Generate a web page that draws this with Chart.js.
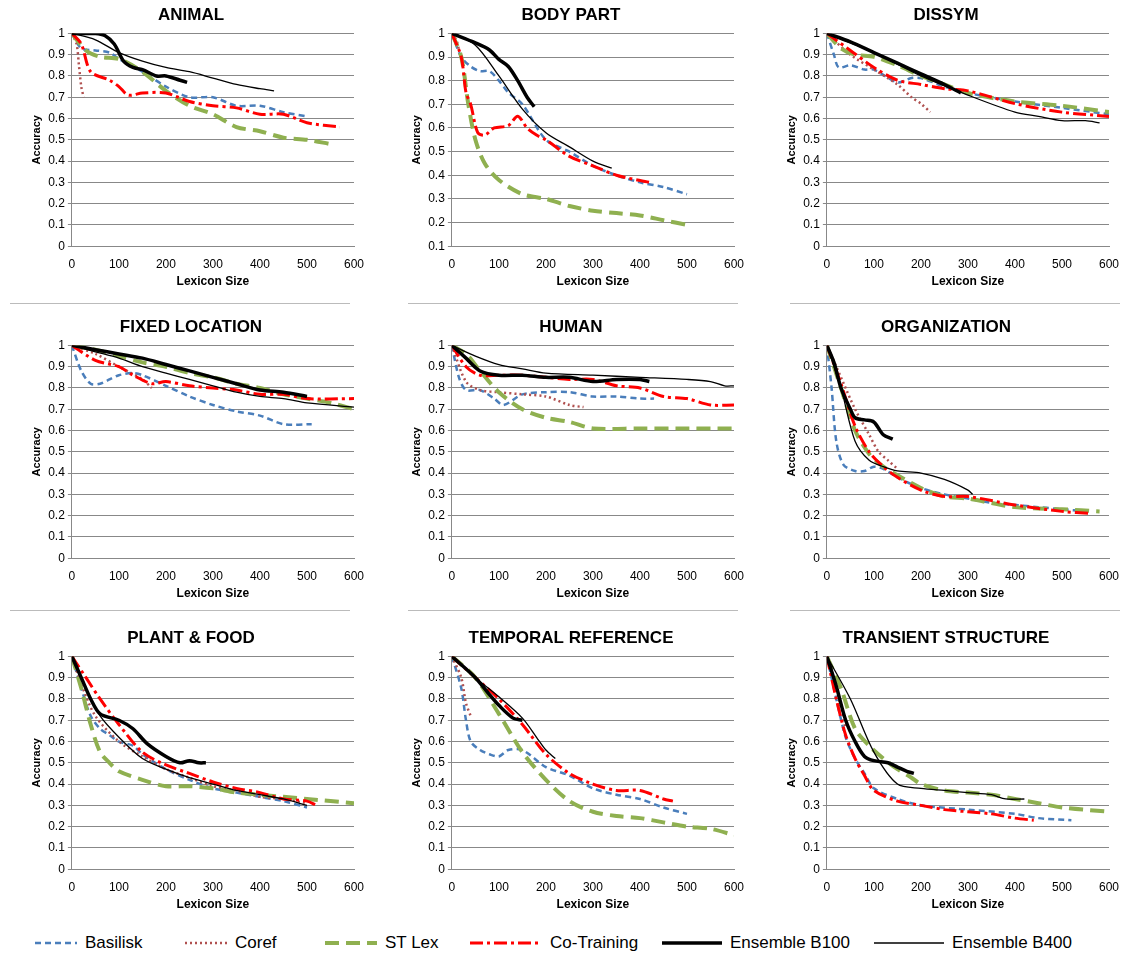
<!DOCTYPE html>
<html><head><meta charset="utf-8">
<script src="https://cdn.jsdelivr.net/npm/chart.js@4.4.0/dist/chart.umd.min.js"></script>
<style>
body{margin:0;background:#fff;width:1130px;height:957px;position:relative;overflow:hidden;font-family:"Liberation Sans",Arial,sans-serif}
.p{position:absolute;width:376px;height:288px}
.sep{position:absolute;height:1px;background:#bbb}
.li{position:absolute;top:930px;height:26px;display:flex;align-items:center;font-size:17px;color:#000;white-space:nowrap}
</style></head><body>
<div class="sep" style="left:10px;top:303px;width:340px"></div>
<div class="sep" style="left:408px;top:303px;width:330px"></div>
<div class="sep" style="left:790px;top:303px;width:330px"></div>
<div class="sep" style="left:10px;top:610px;width:340px"></div>
<div class="sep" style="left:408px;top:610px;width:330px"></div>
<div class="sep" style="left:790px;top:610px;width:330px"></div>
<script>
const SERIES=["Basilisk","Coref","ST Lex","Co-Training","Ensemble B100","Ensemble B400"];
const TITLES=["ANIMAL","BODY PART","DISSYM","FIXED LOCATION","HUMAN","ORGANIZATION","PLANT & FOOD","TEMPORAL REFERENCE","TRANSIENT STRUCTURE"];
const YMIN=[0,0.1,0,0,0,0,0,0,0];
const X_TICKS=[0,100,200,300,400,500,600];

const ANIMAL_BASILISK=[[0,1],[20,0.93],[50,0.92],[80,0.91],[100,0.88],[150,0.82],[200,0.75],[250,0.7],[300,0.7],[350,0.66],[400,0.66],[450,0.63],[500,0.61]];
const ANIMAL_COREF=[[0,1],[10,0.95],[15,0.85],[20,0.75],[25,0.7]];
const ANIMAL_STLEX=[[0,1],[30,0.92],[60,0.89],[100,0.88],[150,0.82],[200,0.73],[250,0.66],[300,0.62],[350,0.56],[400,0.54],[450,0.51],[500,0.5],[550,0.48]];
const ANIMAL_COT=[[0,1],[20,0.95],[40,0.82],[80,0.78],[100,0.75],[120,0.71],[150,0.72],[200,0.72],[250,0.68],[300,0.66],[350,0.65],[400,0.62],[450,0.62],[500,0.58],[570,0.56]];
const ANIMAL_B100=[[0,1],[50,1],[70,0.99],[90,0.95],[110,0.87],[130,0.84],[150,0.83],[180,0.8],[200,0.8],[230,0.78],[245,0.77]];
const ANIMAL_B400=[[0,1],[50,0.97],[100,0.91],[150,0.87],[200,0.84],[250,0.82],[300,0.79],[350,0.76],[400,0.74],[430,0.73]];

const BODY_BASILISK=[[0,1],[20,0.9],[40,0.86],[60,0.84],[80,0.84],[100,0.8],[120,0.75],[150,0.7],[200,0.55],[250,0.5],[300,0.44],[350,0.4],[400,0.37],[450,0.35],[500,0.32]];
const BODY_COREF=[[0,1],[10,0.97],[15,0.93]];
const BODY_STLEX=[[0,1],[20,0.9],[35,0.7],[50,0.55],[70,0.45],[100,0.38],[150,0.32],[200,0.3],[250,0.27],[300,0.25],[350,0.24],[400,0.23],[450,0.21],[500,0.19]];
const BODY_COT=[[0,1],[20,0.9],[30,0.75],[40,0.7],[55,0.58],[70,0.57],[90,0.6],[120,0.61],[140,0.65],[160,0.6],[180,0.57],[200,0.55],[250,0.48],[300,0.44],[350,0.4],[420,0.37]];
const BODY_B100=[[0,1],[50,0.96],[80,0.93],[100,0.89],[120,0.86],[140,0.8],[160,0.73],[175,0.69]];
const BODY_B400=[[0,1],[50,0.95],[100,0.82],[150,0.68],[200,0.58],[250,0.52],[300,0.46],[340,0.43]];

const DISSYM_BASILISK=[[0,1],[15,0.9],[25,0.84],[50,0.85],[80,0.83],[100,0.83],[150,0.77],[180,0.79],[200,0.79],[250,0.75],[300,0.72],[400,0.68],[500,0.65],[600,0.62]];
const DISSYM_COREF=[[0,1],[50,0.9],[100,0.83],[150,0.76],[180,0.7],[200,0.67],[220,0.63]];
const DISSYM_STLEX=[[0,1],[30,0.93],[60,0.9],[100,0.89],[150,0.85],[200,0.8],[250,0.76],[300,0.72],[400,0.68],[500,0.66],[600,0.63]];
const DISSYM_COT=[[0,1],[50,0.92],[100,0.84],[150,0.78],[200,0.76],[250,0.74],[300,0.73],[400,0.67],[500,0.63],[600,0.61]];
const DISSYM_B100=[[0,1],[50,0.96],[100,0.91],[150,0.86],[200,0.81],[250,0.76],[285,0.72]];
const DISSYM_B400=[[0,1],[100,0.91],[200,0.8],[300,0.71],[400,0.63],[450,0.61],[500,0.59],[550,0.59],[580,0.58]];

const FIXED_BASILISK=[[0,1],[20,0.88],[40,0.82],[60,0.82],[80,0.84],[100,0.86],[130,0.87],[150,0.86],[200,0.81],[250,0.76],[300,0.72],[350,0.69],[400,0.67],[450,0.63],[510,0.63]];
const FIXED_COREF=[[0,1],[50,0.96],[100,0.9],[150,0.84],[170,0.8]];
const FIXED_STLEX=[[0,1],[50,0.98],[100,0.95],[150,0.92],[200,0.9],[250,0.87],[300,0.85],[350,0.82],[400,0.8],[450,0.77],[500,0.75],[550,0.73],[600,0.7]];
const FIXED_COT=[[0,1],[50,0.93],[100,0.9],[130,0.86],[170,0.82],[200,0.83],[250,0.81],[300,0.8],[350,0.79],[400,0.77],[450,0.77],[500,0.75],[600,0.75]];
const FIXED_B100=[[0,1],[50,0.98],[100,0.96],[150,0.94],[200,0.91],[250,0.88],[300,0.85],[350,0.82],[400,0.79],[450,0.78],[500,0.76]];
const FIXED_B400=[[0,1],[50,0.97],[100,0.94],[150,0.9],[200,0.87],[250,0.84],[300,0.81],[350,0.78],[400,0.76],[450,0.75],[500,0.73],[600,0.71]];

const HUMAN_BASILISK=[[0,1],[15,0.85],[30,0.79],[60,0.79],[90,0.75],[110,0.72],[150,0.77],[200,0.78],[250,0.78],[300,0.76],[350,0.76],[400,0.75],[430,0.75]];
const HUMAN_COREF=[[0,1],[30,0.83],[60,0.79],[100,0.78],[150,0.77],[200,0.76],[250,0.72],[280,0.71]];
const HUMAN_STLEX=[[0,1],[30,0.96],[60,0.88],[100,0.78],[150,0.7],[200,0.66],[250,0.64],[300,0.61],[400,0.61],[500,0.61],[600,0.61]];
const HUMAN_COT=[[0,1],[30,0.9],[60,0.86],[100,0.86],[150,0.86],[200,0.85],[250,0.84],[300,0.84],[350,0.81],[400,0.8],[450,0.76],[500,0.75],[550,0.72],[600,0.72]];
const HUMAN_B100=[[0,1],[30,0.94],[60,0.88],[100,0.86],[150,0.86],[200,0.85],[250,0.85],[300,0.83],[350,0.84],[400,0.84],[420,0.83]];
const HUMAN_B400=[[0,1],[50,0.95],[100,0.91],[150,0.89],[200,0.87],[300,0.86],[400,0.85],[500,0.84],[550,0.83],[580,0.81],[600,0.81]];

const ORG_BASILISK=[[0,1],[10,0.8],[20,0.55],[35,0.44],[60,0.41],[80,0.41],[100,0.43],[120,0.42],[150,0.38],[200,0.33],[250,0.3],[300,0.28],[350,0.26],[400,0.25],[450,0.24],[500,0.23],[550,0.22]];
const ORG_COREF=[[0,1],[30,0.85],[60,0.7],[90,0.58],[110,0.5],[130,0.46],[150,0.42]];
const ORG_STLEX=[[0,1],[30,0.8],[60,0.6],[90,0.49],[120,0.43],[150,0.39],[200,0.33],[250,0.29],[300,0.28],[400,0.24],[500,0.23],[580,0.22]];
const ORG_COT=[[0,1],[30,0.82],[60,0.62],[90,0.5],[120,0.43],[150,0.38],[200,0.32],[250,0.29],[300,0.29],[400,0.25],[500,0.22],[560,0.21]];
const ORG_B100=[[0,1],[15,0.92],[30,0.8],[50,0.7],[60,0.66],[80,0.65],[100,0.64],[120,0.58],[140,0.56]];
const ORG_B400=[[0,1],[30,0.8],[60,0.55],[90,0.46],[120,0.43],[150,0.41],[200,0.4],[250,0.37],[300,0.32],[310,0.3]];

const PLANT_BASILISK=[[0,1],[20,0.85],[40,0.72],[60,0.66],[80,0.63],[100,0.6],[130,0.58],[150,0.54],[200,0.47],[250,0.42],[300,0.38],[350,0.36],[400,0.34],[450,0.32],[500,0.29]];
const PLANT_COREF=[[0,1],[20,0.87],[50,0.72],[100,0.6],[150,0.53],[200,0.47],[250,0.43],[300,0.39],[350,0.37],[400,0.34],[450,0.33],[500,0.31]];
const PLANT_STLEX=[[0,1],[20,0.85],[40,0.68],[60,0.55],[80,0.5],[100,0.46],[150,0.42],[200,0.39],[250,0.39],[300,0.38],[350,0.36],[400,0.35],[500,0.33],[600,0.31]];
const PLANT_COT=[[0,1],[30,0.9],[60,0.8],[100,0.68],[150,0.55],[200,0.49],[250,0.45],[300,0.41],[350,0.38],[400,0.36],[450,0.33],[500,0.32],[520,0.3]];
const PLANT_B100=[[0,1],[20,0.9],[40,0.8],[60,0.73],[100,0.7],[130,0.66],[160,0.59],[200,0.53],[230,0.5],[250,0.51],[270,0.5],[285,0.5]];
const PLANT_B400=[[0,1],[30,0.85],[60,0.72],[100,0.62],[150,0.52],[200,0.47],[250,0.43],[300,0.4],[350,0.37],[400,0.35],[450,0.33],[500,0.3]];

const TEMP_BASILISK=[[0,1],[20,0.85],[30,0.7],[40,0.6],[60,0.56],[80,0.54],[100,0.53],[120,0.56],[150,0.56],[200,0.48],[250,0.44],[300,0.38],[350,0.35],[400,0.33],[450,0.29],[500,0.26]];
const TEMP_COREF=[[0,1],[20,0.9],[30,0.78],[40,0.72]];
const TEMP_STLEX=[[0,1],[50,0.9],[100,0.73],[150,0.55],[200,0.42],[250,0.32],[300,0.27],[350,0.25],[400,0.24],[450,0.22],[500,0.2],[550,0.19],[600,0.16]];
const TEMP_COT=[[0,1],[50,0.9],[100,0.8],[150,0.68],[200,0.54],[250,0.45],[300,0.4],[350,0.37],[400,0.37],[450,0.33],[470,0.32]];
const TEMP_B100=[[0,1],[50,0.9],[80,0.82],[100,0.77],[130,0.71],[150,0.7]];
const TEMP_B400=[[0,1],[50,0.9],[100,0.81],[150,0.71],[180,0.62],[200,0.56],[220,0.52]];

const TRANS_BASILISK=[[0,1],[20,0.8],[40,0.62],[60,0.52],[80,0.45],[100,0.38],[150,0.33],[200,0.3],[300,0.28],[400,0.26],[450,0.24],[520,0.23]];
const TRANS_COREF=[[0,1],[20,0.85],[40,0.66]];
const TRANS_STLEX=[[0,1],[30,0.85],[60,0.66],[90,0.58],[120,0.52],[150,0.47],[180,0.43],[200,0.4],[250,0.37],[300,0.36],[350,0.35],[400,0.33],[450,0.31],[500,0.29],[600,0.27]];
const TRANS_COT=[[0,1],[20,0.8],[40,0.63],[60,0.52],[80,0.44],[100,0.37],[150,0.32],[200,0.3],[250,0.28],[300,0.27],[350,0.26],[400,0.24],[440,0.23]];
const TRANS_B100=[[0,1],[20,0.86],[40,0.7],[60,0.6],[80,0.53],[100,0.51],[130,0.5],[150,0.48],[170,0.46],[185,0.45]];
const TRANS_B400=[[0,1],[50,0.8],[100,0.55],[150,0.4],[200,0.38],[250,0.37],[300,0.36],[350,0.35],[380,0.33],[420,0.33]];

const PANEL_DATA=[
[ANIMAL_BASILISK,ANIMAL_COREF,ANIMAL_STLEX,ANIMAL_COT,ANIMAL_B100,ANIMAL_B400],
[BODY_BASILISK,BODY_COREF,BODY_STLEX,BODY_COT,BODY_B100,BODY_B400],
[DISSYM_BASILISK,DISSYM_COREF,DISSYM_STLEX,DISSYM_COT,DISSYM_B100,DISSYM_B400],
[FIXED_BASILISK,FIXED_COREF,FIXED_STLEX,FIXED_COT,FIXED_B100,FIXED_B400],
[HUMAN_BASILISK,HUMAN_COREF,HUMAN_STLEX,HUMAN_COT,HUMAN_B100,HUMAN_B400],
[ORG_BASILISK,ORG_COREF,ORG_STLEX,ORG_COT,ORG_B100,ORG_B400],
[PLANT_BASILISK,PLANT_COREF,PLANT_STLEX,PLANT_COT,PLANT_B100,PLANT_B400],
[TEMP_BASILISK,TEMP_COREF,TEMP_STLEX,TEMP_COT,TEMP_B100,TEMP_B400],
[TRANS_BASILISK,TRANS_COREF,TRANS_STLEX,TRANS_COT,TRANS_B100,TRANS_B400]];

const STYLES=[
{c:'#4a7ebb',w:2.5,d:[6,4]},
{c:'#b0504f',w:2.5,d:[2,3]},
{c:'#8fb050',w:4,d:[14,7]},
{c:'#ff0000',w:3,d:[13,4,3,4]},
{c:'#000000',w:3.5,d:[]},
{c:'#000000',w:1.3,d:[]}];

const LEG_LEFT=[33,183,323,468,660,872];
const LEG_LINE=[42,42,52,72,60,70];
SERIES.forEach((s,i)=>{
  const d=document.createElement('div');d.className='li';d.style.left=LEG_LEFT[i]+'px';
  const st=STYLES[i],L=LEG_LINE[i];
  d.innerHTML=`<svg width="${L+4}" height="10"><line x1="2" y1="5" x2="${L+2}" y2="5" stroke="${st.c}" stroke-width="${st.w}" stroke-dasharray="${st.d.join(',')}"/></svg><span style="margin-left:6px">${s}</span>`;
  document.body.appendChild(d);
});

const LEFTS=[0,380,755],TOPS=[1,313,624];
Chart.defaults.font.family='"Liberation Sans",Arial,sans-serif';
TITLES.forEach((t,k)=>{
  const div=document.createElement('div');div.className='p';
  div.style.left=LEFTS[k%3]+'px';div.style.top=TOPS[Math.floor(k/3)]+'px';
  const cv=document.createElement('canvas');div.appendChild(cv);document.body.appendChild(div);
  new Chart(cv,{type:'scatter',
    data:{datasets:PANEL_DATA[k].map((pts,i)=>({label:SERIES[i],data:pts.map(p=>({x:p[0],y:p[1]})),showLine:true,
      borderColor:STYLES[i].c,borderWidth:STYLES[i].w,borderDash:STYLES[i].d,pointRadius:0,tension:0.3,fill:false,order:6-i}))},
    options:{responsive:true,maintainAspectRatio:false,animation:false,
      layout:{padding:{left:28,right:22,top:0,bottom:0}},
      plugins:{legend:{display:false},tooltip:{enabled:false},
        title:{display:true,text:t,font:{size:17,weight:'bold'},color:'#000',padding:{top:4,bottom:8}}},
      scales:{
        x:{type:'linear',min:0,max:600,afterBuildTicks:a=>{a.ticks=X_TICKS.map(v=>({value:v}));},
          grid:{display:false,drawTicks:true},border:{color:'#888'},
          ticks:{color:'#000',font:{size:12},maxRotation:0},
          title:{display:true,text:'Lexicon Size',font:{size:12,weight:'bold'},color:'#000',padding:0}},
        y:{min:YMIN[k],max:1,ticks:{stepSize:0.1,color:'#000',font:{size:12},callback:v=>Math.round(v*10)/10+''},
          grid:{color:'#888',drawTicks:true,tickLength:4},border:{color:'#888'},
          title:{display:true,text:'Accuracy',font:{size:11,weight:'bold'},color:'#000',padding:2}}}}});
});
</script>
</body></html>
